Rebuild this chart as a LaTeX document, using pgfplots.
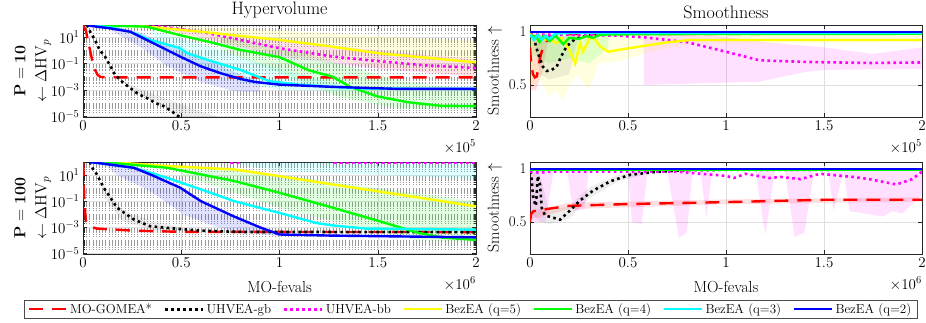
\documentclass[border=0pt]{standalone}
\usepackage{fix-cm}
\usepackage{pgfplots}
\pgfplotsset{compat=1.18}
\definecolor{cY}{rgb}{1,1,0}
\definecolor{cG}{rgb}{0,1,0}
\definecolor{cC}{rgb}{0,1,1}
\definecolor{cB}{rgb}{0,0,1}
\definecolor{cM}{rgb}{1,0,1}
\definecolor{cR}{rgb}{1,0,0}
\pgfplotsset{every axis/.append style={scale only axis, height=92pt, xmin=0, xmax=2, xtick={0,0.5,1,1.5,2},
    tick align=inside, major tick length=4pt, minor tick length=2pt,
    axis line style={black!85, line width=0.5pt}, tick style={black!85, line width=0.4pt},
    tick label style={font=\fontsize{15}{18}\selectfont},
    label style={font=\fontsize{16}{19}\selectfont},
    xlabel style={yshift=-7pt},
    title style={font=\fontsize{18}{21}\selectfont, yshift=-3pt},
    xmajorgrids, ymajorgrids, major grid style={gray!25, line width=0.5pt},
    minor grid style={black!40, dash pattern=on 0.8pt off 2.4pt, line width=0.35pt}}}
\tikzset{
  zzred/.style={cR, line width=2.4pt, dash pattern=on 14pt off 9pt},
  zzblack/.style={black, line width=2.6pt, dash pattern=on 2.6pt off 3.4pt},
  zzmag/.style={cM, line width=2.6pt, dash pattern=on 2.6pt off 3.4pt},
  zzyel/.style={cY, line width=2.4pt},
  zzgre/.style={cG, line width=2.4pt},
  zzcya/.style={cC, line width=2.4pt},
  zzblu/.style={cB, line width=2.4pt},
  zzband/.style={draw=none, fill=#1, fill opacity=0.12},
  zzgray/.style={draw=none, fill=black, fill opacity=0.07},
}
\begin{document}
\begin{tikzpicture}
\useasboundingbox (0pt,0pt) rectangle (926pt,322pt);
% ---------------- top left: P=10 hypervolume
\begin{axis}[name=tl, at={(83pt,205pt)}, anchor=south west, width=393pt,
  ymode=log, ymin=9e-6, ymax=80, ytick={1e-5,1e-3,1e-1,1e1},
  minor ytick={2e-5,3e-5,4e-5,5e-5,6e-5,7e-5,8e-5,9e-5,1e-4,2e-4,3e-4,4e-4,5e-4,6e-4,7e-4,8e-4,9e-4,2e-3,3e-3,4e-3,5e-3,6e-3,7e-3,8e-3,9e-3,1e-2,2e-2,3e-2,4e-2,5e-2,6e-2,7e-2,8e-2,9e-2,2e-1,3e-1,4e-1,5e-1,6e-1,7e-1,8e-1,9e-1,1,2,3,4,5,6,7,8,9,20,30,40,50,60,70},
  yminorgrids,
  ylabel style={align=center, yshift=-7pt},
  title={Hypervolume}, ylabel={$\mathbf{P=10}$\\[2pt]$\leftarrow\Delta\mathrm{HV}_p$}]
\addplot[zzband=cY, forget plot] coordinates {(0.4,79)(1.0,30)(1.5,12)(2,5)(2,0.01)(1.5,0.05)(1.0,0.5)(0.4,30)};
\addplot[zzband=cM, forget plot] coordinates {(0.3,79)(1.0,5)(1.5,1)(2,0.2)(2,0.01)(1.5,0.04)(1.0,0.3)(0.5,20)};
\addplot[zzband=cG, forget plot] coordinates {(0.7,10)(1.0,2)(1.3,0.1)(1.6,0.005)(2,0.001)(2,3e-5)(1.6,4e-5)(1.3,3e-4)(1.0,0.02)(0.7,1)};
\addplot[zzband=cC, forget plot] coordinates {(0.35,30)(0.6,3)(0.8,0.3)(1.0,0.04)(1.2,0.006)(1.4,0.0015)(1.4,8e-4)(1.0,0.001)(0.8,0.004)(0.6,0.05)(0.4,1)};
\addplot[zzband=cB, forget plot] coordinates {(0.15,70)(0.3,20)(0.45,2)(0.6,0.3)(0.75,0.03)(0.9,0.004)(0.9,7e-4)(0.77,8e-4)(0.6,0.004)(0.43,0.06)(0.3,1.5)(0.2,10)(0.1,79)};
\addplot[zzgray, forget plot] coordinates {(0.15,1e-2)(0.3,1e-3)(0.43,2e-4)(0.55,4e-5)(0.7,8e-6)(0.48,8e-6)(0.41,6e-5)(0.32,2.5e-4)(0.24,1.4e-3)(0.16,1.4e-2)};
\addplot[zzred] coordinates {(0,79)(0.015,30)(0.025,5)(0.036,1)(0.05,0.1)(0.061,0.033)(0.075,0.013)(0.09,0.0095)(0.12,0.009)(0.5,0.0088)(2,0.0088)};
\addplot[zzblack] coordinates {(0.02,79)(0.04,20)(0.061,6)(0.085,1)(0.112,0.33)(0.14,0.06)(0.163,0.014)(0.2,0.004)(0.24,0.0014)(0.28,5e-4)(0.324,2.5e-4)(0.37,1e-4)(0.41,6e-5)(0.45,2.5e-5)(0.485,1.05e-5)(0.5,8e-6)};
\addplot[zzmag] coordinates {(0.26,79)(0.4,60)(0.6,25)(0.8,6)(1.0,1.4)(1.27,0.33)(1.5,0.15)(1.75,0.07)(2,0.045)};
\addplot[zzyel] coordinates {(0.1,79)(0.3,65)(0.6,25)(0.8,12)(1.0,6)(1.25,2)(1.5,0.6)(1.75,0.27)(2,0.12)};
\addplot[zzgre] coordinates {(0.05,79)(0.324,60)(0.49,14)(0.65,4)(0.8,1.05)(1.0,0.3)(1.15,0.03)(1.27,0.01)(1.36,0.0017)(1.5,3.2e-4)(1.65,1.2e-4)(1.82,6.3e-5)(2,6e-5)};
\addplot[zzcya] coordinates {(0.03,79)(0.15,50)(0.26,20)(0.34,6)(0.49,1.5)(0.53,0.6)(0.66,0.14)(0.8,0.033)(0.95,0.0045)(1.1,0.0025)(1.27,0.0017)(1.44,0.00126)(2,0.0012)};
\addplot[zzblu] coordinates {(0.02,79)(0.05,65)(0.137,45)(0.24,25)(0.324,6)(0.41,1.4)(0.494,0.33)(0.6,0.06)(0.697,0.019)(0.8,0.0068)(0.875,0.004)(1.0,0.0025)(1.27,0.0017)(1.6,0.0012)(2,0.0012)};
\end{axis}
\node[anchor=north east, inner sep=0pt, font=\fontsize{15}{18}\selectfont] at ([yshift=-23pt]tl.south east) {$\times10^{5}$};
% ---------------- top right: P=10 smoothness
\begin{axis}[name=tr, at={(530pt,205pt)}, anchor=south west, width=392pt,
  ymin=0.2, ymax=1.06, ytick={0.5,1}, yticklabels={0.5,1},
  title={Smoothness}, ylabel={Smoothness $\uparrow$}]
\addplot[zzband=cY, forget plot] coordinates {(0,1)(2,0.97)(2,0.9)(0.8,0.88)(0.6,0.8)(0.45,0.72)(0.35,0.7)(0.3,0.45)(0.24,0.6)(0.2,0.5)(0.17,0.35)(0.13,0.45)(0.1,0.38)(0.05,0.55)(0,0.5)};
\addplot[zzband=cM, forget plot] coordinates {(0.58,0.98)(0.9,0.97)(1.2,0.9)(1.5,0.85)(1.75,0.79)(2,0.85)(2,0.65)(1.5,0.64)(1.4,0.62)(1.17,0.53)(0.58,0.5)};
\addplot[zzband=cR, forget plot] coordinates {(0,0.98)(0.1,0.98)(0.06,0.6)(0.03,0.45)(0,0.45)};
\addplot[zzgray, forget plot] coordinates {(0.02,0.95)(0.25,0.96)(0.2,0.6)(0.1,0.55)(0.05,0.6)};
\addplot[zzband=cG, forget plot] coordinates {(0,0.98)(0.4,0.99)(0.4,0.85)(0.3,0.7)(0.2,0.75)(0.1,0.7)(0,0.8)};
\addplot[zzred] coordinates {(0,0.85)(0.005,0.72)(0.015,0.6)(0.025,0.57)(0.035,0.58)(0.045,0.7)(0.055,0.78)(0.07,0.87)(0.1,0.95)(0.2,0.975)(2,0.98)};
\addplot[zzblack] coordinates {(0,0.99)(0.017,0.956)(0.04,0.8)(0.066,0.67)(0.085,0.63)(0.11,0.64)(0.136,0.67)(0.16,0.77)(0.187,0.86)(0.23,0.93)(0.29,0.96)(0.4,0.985)(2,0.99)};
\addplot[zzmag] coordinates {(0,0.97)(0.1,0.97)(0.3,0.965)(0.45,0.96)(0.58,0.945)(0.8,0.9)(1.0,0.81)(1.17,0.73)(1.4,0.715)(1.73,0.705)(2,0.71)};
\addplot[zzyel] coordinates {(0,0.98)(0.02,0.93)(0.05,0.925)(0.1,0.925)(0.136,0.89)(0.16,0.94)(0.2,0.83)(0.23,0.70)(0.255,0.89)(0.27,0.81)(0.306,0.94)(0.33,0.93)(0.357,0.86)(0.4,0.81)(0.46,0.83)(0.6,0.87)(0.71,0.9)(0.82,0.92)(2,0.92)};
\addplot[zzgre] coordinates {(0,0.96)(0.03,0.95)(0.05,0.9)(0.07,0.96)(0.1,0.91)(0.13,0.96)(0.17,0.88)(0.2,0.94)(0.25,0.93)(0.29,0.956)(0.32,0.94)(0.36,0.97)(0.6,0.975)(2,0.978)};
\addplot[zzcya] coordinates {(0,0.97)(0.02,0.92)(0.04,0.97)(0.06,0.92)(0.08,0.96)(0.1,0.93)(0.13,0.98)(0.2,0.985)(2,0.985)};
\addplot[zzblu] coordinates {(0,0.995)(2,0.995)};
\end{axis}
\node[anchor=north east, inner sep=0pt, font=\fontsize{15}{18}\selectfont] at ([yshift=-23pt]tr.south east) {$\times10^{5}$};
% ---------------- bottom left: P=100 hypervolume
\begin{axis}[name=bl, at={(83pt,68pt)}, anchor=south west, width=393pt,
  ymode=log, ymin=9e-6, ymax=100, ytick={1e-5,1e-3,1e-1,1e1},
  minor ytick={2e-5,3e-5,4e-5,5e-5,6e-5,7e-5,8e-5,9e-5,1e-4,2e-4,3e-4,4e-4,5e-4,6e-4,7e-4,8e-4,9e-4,2e-3,3e-3,4e-3,5e-3,6e-3,7e-3,8e-3,9e-3,1e-2,2e-2,3e-2,4e-2,5e-2,6e-2,7e-2,8e-2,9e-2,2e-1,3e-1,4e-1,5e-1,6e-1,7e-1,8e-1,9e-1,1,2,3,4,5,6,7,8,9,20,30,40,50,60,70,80,90},
  yminorgrids,
  ylabel style={align=center, yshift=-7pt},
  xlabel={MO-fevals}, ylabel={$\mathbf{P=100}$\\[2pt]$\leftarrow\Delta\mathrm{HV}_p$},
  legend columns=7, legend cell align=left,
  legend style={at={(0.986,-0.6)}, anchor=center, draw=black!70, line width=0.5pt,
    font=\fontsize{13}{16}\selectfont, inner xsep=4pt, inner ysep=1pt,
    /tikz/every even column/.append style={column sep=10pt}},
  legend image code/.code={\draw[#1] (0pt,0pt) -- (38pt,0pt);}]
\addplot[zzband=cC, forget plot] coordinates {(0.8,95)(2,95)(2,5)(1.0,20)(0.8,60)};
\addplot[zzband=cG, forget plot] coordinates {(0.5,60)(1.0,10)(1.5,1)(2,0.1)(2,8e-5)(1.7,1e-4)(1.4,1e-3)(1.0,0.03)(0.7,1)(0.5,10)};
\addplot[zzband=cB, forget plot] coordinates {(0.15,60)(0.26,35)(0.35,10)(0.5,1)(0.6,0.1)(0.77,0.007)(1.0,3e-4)(1.0,2e-4)(0.77,5e-4)(0.65,0.0015)(0.51,0.01)(0.35,0.5)(0.17,11)(0.1,90)};
\addplot[zzgray, forget plot] coordinates {(0.1,2)(0.2,0.02)(0.35,0.003)(0.5,0.001)(0.5,5e-4)(0.35,6e-4)(0.2,0.003)(0.1,0.3)};
\addplot[zzred] coordinates {(0,100)(0.002,50)(0.005,1)(0.008,0.05)(0.015,0.003)(0.04,0.0011)(0.07,8e-4)(0.26,5.5e-4)(0.5,4.5e-4)(1,4.4e-4)(2,4.3e-4)};
\addlegendentry{MO-GOMEA*}
\addplot[zzblack] coordinates {(0.035,100)(0.05,30)(0.071,11)(0.105,1.1)(0.173,0.032)(0.258,0.004)(0.342,0.0012)(0.427,9e-4)(0.6,5.5e-4)(0.8,4.4e-4)(2,4.2e-4)};
\addlegendentry{UHVEA-gb}
\addplot[zzmag] coordinates {(0,200)(0.74,200)(0.755,90)(0.79,90)(0.805,200)(1.25,200)(1.27,90)(2,90)};
\addlegendentry{UHVEA-bb}
\addplot[zzyel] coordinates {(0.14,100)(0.43,49)(0.77,27)(1.0,8.3)(1.27,1.9)(1.61,0.32)(2,0.04)};
\addlegendentry{BezEA (q=5)}
\addplot[zzgre] coordinates {(0.09,100)(0.43,36)(0.77,3.5)(1.0,0.44)(1.27,0.032)(1.5,0.0032)(1.7,4e-4)(1.83,1.6e-4)(2,1.1e-4)};
\addlegendentry{BezEA (q=4)}
\addplot[zzcya] coordinates {(0.037,100)(0.26,36)(0.43,6)(0.6,0.8)(0.77,0.1)(1.0,0.0126)(1.19,0.0021)(1.27,0.0014)(1.44,8e-4)(2,6.6e-4)};
\addlegendentry{BezEA (q=3)}
\addplot[zzblu] coordinates {(0.037,100)(0.15,60)(0.258,36)(0.35,10)(0.495,1.07)(0.6,0.1)(0.766,0.007)(0.9,0.001)(1.0,2.8e-4)(1.27,2.3e-4)(2,1.7e-4)};
\addlegendentry{BezEA (q=2)}
\end{axis}
\node[anchor=north east, inner sep=0pt, font=\fontsize{15}{18}\selectfont] at ([yshift=-23pt]bl.south east) {$\times10^{6}$};
% ---------------- bottom right: P=100 smoothness
\begin{axis}[name=br, at={(530pt,68pt)}, anchor=south west, width=392pt,
  ymin=0.2, ymax=1.06, ytick={0.5,1}, yticklabels={0.5,1},
  xlabel={MO-fevals}, ylabel={Smoothness $\uparrow$}]
\addplot[zzband=cM, forget plot] coordinates {(0,0.99)(2,0.99)(2,0.75)(1.9,0.58)(1.85,0.6)(1.8,0.55)(1.7,0.58)(1.63,0.6)(1.6,0.98)(1.55,0.6)(1.52,0.98)(1.45,0.98)(1.4,0.4)(1.35,0.36)(1.3,0.98)(1.25,0.98)(1.2,0.38)(1.15,0.98)(0.93,0.98)(0.9,0.53)(0.87,0.98)(0.83,0.98)(0.8,0.4)(0.76,0.35)(0.7,0.98)(0.6,0.98)(0.57,0.48)(0.52,0.5)(0.5,0.98)(0.3,0.98)(0.28,0.62)(0.22,0.6)(0.19,0.98)(0.12,0.98)(0.08,0.5)(0,0.5)};
\addplot[zzgray, forget plot] coordinates {(0,0.99)(0.05,0.95)(0.1,0.6)(0.2,0.65)(0.3,0.82)(0.45,0.94)(0.6,0.98)(0.6,0.95)(0.45,0.88)(0.3,0.72)(0.2,0.53)(0.1,0.48)(0.05,0.5)(0,0.6)};
\addplot[zzband=cR, forget plot] coordinates {(0,0.6)(0.2,0.68)(1,0.71)(2,0.73)(2,0.69)(1,0.665)(0.2,0.62)(0,0.52)};
\addplot[zzred] coordinates {(0,0.5)(0.005,0.57)(0.017,0.6)(0.085,0.62)(0.2,0.65)(0.5,0.667)(1,0.685)(1.5,0.707)(2,0.707)};
\addplot[zzblack] coordinates {(0,0.97)(0.008,0.9)(0.015,0.75)(0.02,0.7)(0.03,0.65)(0.04,0.93)(0.051,0.85)(0.06,0.63)(0.077,0.56)(0.118,0.54)(0.153,0.52)(0.2,0.6)(0.255,0.7)(0.32,0.79)(0.41,0.88)(0.51,0.94)(0.63,0.965)(0.8,0.985)(2,0.99)};
\addplot[zzmag] coordinates {(0,0.97)(0.05,0.96)(0.1,0.97)(0.3,0.97)(0.54,0.97)(0.75,0.97)(1.0,0.93)(1.04,0.91)(1.1,0.95)(1.22,0.91)(1.28,0.92)(1.38,0.9)(1.48,0.95)(1.65,0.92)(1.73,0.9)(1.87,0.85)(1.95,0.9)(2,0.97)};
\addplot[zzyel] coordinates {(0,0.99)(2,0.99)};
\addplot[zzgre] coordinates {(0,0.99)(2,0.99)};
\addplot[zzcya] coordinates {(0,0.995)(2,0.995)};
\addplot[zzblu] coordinates {(0,0.995)(2,0.995)};
\end{axis}
\node[anchor=north east, inner sep=0pt, font=\fontsize{15}{18}\selectfont] at ([yshift=-23pt]br.south east) {$\times10^{6}$};
\end{tikzpicture}
\end{document}
